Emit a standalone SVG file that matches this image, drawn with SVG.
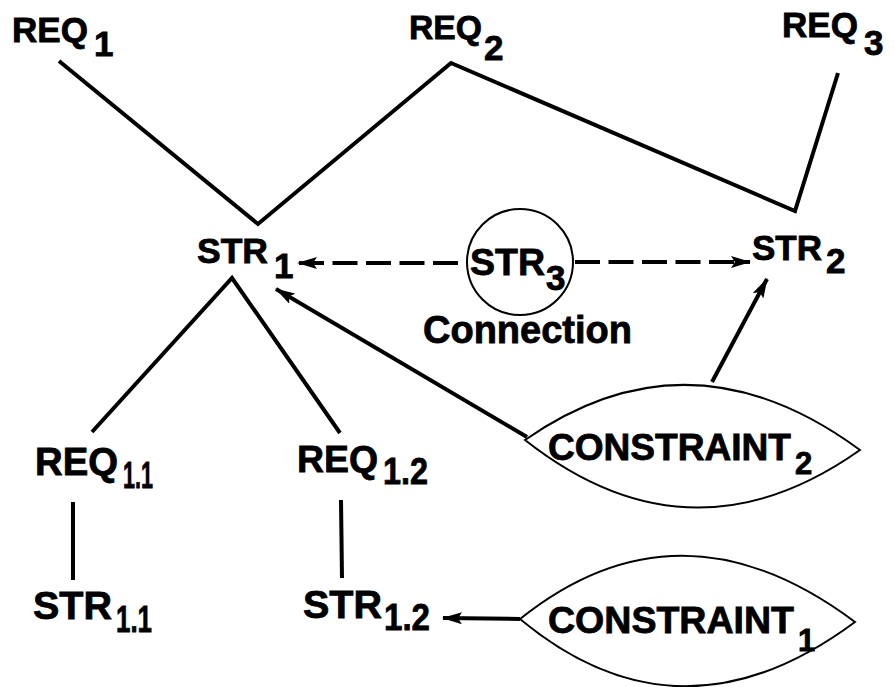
<svg xmlns="http://www.w3.org/2000/svg" width="894" height="687" viewBox="0 0 894 687">
<style>
  text { font-family: "Liberation Sans", Arial, sans-serif; font-weight: bold; fill: #000; stroke: #000; stroke-width: 0.8; }
  .ln { fill: none; stroke: #000; stroke-width: 4; stroke-linejoin: miter; }
  .arr { fill: none; stroke: #000; stroke-width: 4; marker-end: url(#ah); }
  .dash { fill: none; stroke: #000; stroke-width: 4; stroke-dasharray: 25 8.5; marker-end: url(#ah); }
  .shape { fill: #fff; stroke: #000; stroke-width: 2; }
</style>
<defs>
  <marker id="ah" viewBox="0 0 20 12" refX="19" refY="6" markerWidth="20" markerHeight="12" markerUnits="userSpaceOnUse" orient="auto">
    <path d="M0,0 L20,6 L0,12 L4,6 z" fill="#000"/>
  </marker>
</defs>
<rect width="894" height="687" fill="#fff"/>

<g id="connectors">
  <path class="ln" d="M59,61 L258,224 L451,63 L795,211 L838,73"/>
  <path class="ln" d="M92,432 L232,278 L340,433"/>
  <path class="ln" d="M73,502 L73,580"/>
  <path class="ln" d="M341,500 L342,578"/>
  <path class="arr" d="M527,437 L276,289"/>
  <path class="arr" d="M712,382 L767,279"/>
  <path class="arr" d="M520,619 L443,618"/>
  <path class="dash" d="M458,263 L298,263"/>
  <path class="dash" d="M575,262 L750,262"/>
</g>

<g id="req1"><text x="12" y="42" font-size="35" textLength="76" lengthAdjust="spacingAndGlyphs">REQ</text><text x="94" y="56" font-size="35">1</text></g>
<g id="req2"><text x="409" y="39" font-size="34" textLength="73" lengthAdjust="spacingAndGlyphs">REQ</text><text x="484" y="60" font-size="35">2</text></g>
<g id="req3"><text x="782" y="37" font-size="35" textLength="76" lengthAdjust="spacingAndGlyphs">REQ</text><text x="864" y="55" font-size="35">3</text></g>

<g id="str1"><text x="197" y="263" font-size="35.5" textLength="71" lengthAdjust="spacingAndGlyphs">STR</text><text x="274" y="278" font-size="35">1</text></g>
<g id="str3">
  <circle class="shape" cx="520" cy="262" r="53"/>
  <text x="470" y="275" font-size="37.5" textLength="75" lengthAdjust="spacingAndGlyphs">STR</text><text x="546" y="290" font-size="35">3</text>
  <text x="423" y="343" font-size="38" textLength="209" lengthAdjust="spacingAndGlyphs">Connection</text>
</g>
<g id="str2"><text x="752" y="260" font-size="35" textLength="70" lengthAdjust="spacingAndGlyphs">STR</text><text x="826" y="273" font-size="35">2</text></g>

<g id="constraint2">
  <path class="shape" d="M525,440 Q690,325 860,450 Q690,570 525,440 Z"/>
  <text x="548" y="460" font-size="37" textLength="243" lengthAdjust="spacingAndGlyphs">CONSTRAINT</text><text x="795" y="474" font-size="31">2</text>
</g>
<g id="constraint1">
  <path class="shape" d="M520,619 Q680,491 855,622 Q680,752 520,619 Z"/>
  <text x="548" y="633" font-size="37.5" textLength="246" lengthAdjust="spacingAndGlyphs">CONSTRAINT</text><text x="798" y="651" font-size="31">1</text>
</g>

<g id="req1_1"><text x="35" y="475" font-size="38" textLength="83" lengthAdjust="spacingAndGlyphs">REQ</text><text x="123" y="488" font-size="37" textLength="30" lengthAdjust="spacingAndGlyphs">1.1</text></g>
<g id="req1_2"><text x="297" y="472" font-size="37.4" textLength="81" lengthAdjust="spacingAndGlyphs">REQ</text><text x="383" y="484" font-size="37" textLength="45" lengthAdjust="spacingAndGlyphs">1.2</text></g>
<g id="str1_1"><text x="33" y="619" font-size="39.5" textLength="79" lengthAdjust="spacingAndGlyphs">STR</text><text x="116" y="632" font-size="37" textLength="36" lengthAdjust="spacingAndGlyphs">1.1</text></g>
<g id="str1_2"><text x="303" y="618" font-size="39.5" textLength="79" lengthAdjust="spacingAndGlyphs">STR</text><text x="384" y="630" font-size="37" textLength="46" lengthAdjust="spacingAndGlyphs">1.2</text></g>
</svg>
